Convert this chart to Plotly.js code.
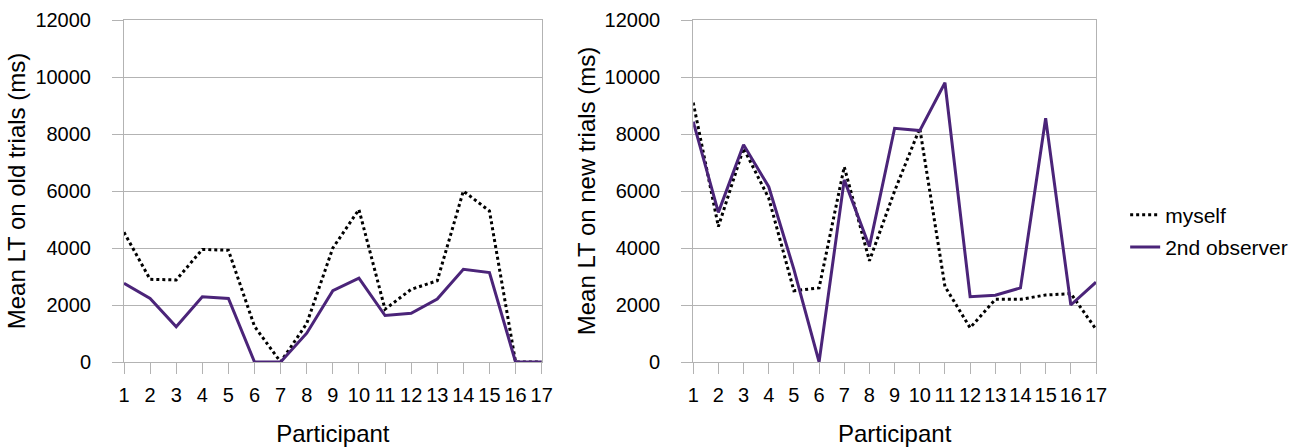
<!DOCTYPE html>
<html>
<head>
<meta charset="utf-8">
<script src="https://cdn.plot.ly/plotly-3.0.1.min.js"></script>
<style>html,body{margin:0;padding:0;background:#fff;}#chart{width:1305px;height:448px;}</style>
</head>
<body>
<div id="chart"></div>
<script>
const participants = [1,2,3,4,5,6,7,8,9,10,11,12,13,14,15,16,17];
const oldMyself   = [4550, 2900, 2880, 3950, 3920, 1250, 0, 1350, 4000, 5350, 1850, 2550, 2850, 6000, 5300, 0, 0];
const oldObserver = [2760, 2230, 1240, 2290, 2230, 0, 0, 1010, 2500, 2940, 1630, 1710, 2210, 3250, 3140, 0, 0];
const newMyself   = [9100, 4750, 7500, 5750, 2500, 2600, 6850, 3550, 6000, 8200, 2650, 1200, 2200, 2200, 2350, 2400, 1150];
const newObserver = [8430, 5250, 7620, 6150, 3250, 0, 6390, 4050, 8200, 8120, 9800, 2290, 2340, 2600, 8550, 2000, 2800];
const yTicks = [0, 2000, 4000, 6000, 8000, 10000, 12000];
const seriesNames = ["myself", "2nd observer"];

const FONT = "Liberation Sans, Arial, sans-serif";
const GRID = "#b3b3b3";
const PURPLE = "#4b2479";

const traces = [
  {x: participants, y: oldMyself, name: seriesNames[0], xaxis: "x", yaxis: "y", mode: "lines",
   line: {color: "#000000", width: 3, dash: "dot"}, showlegend: true, legendgroup: "a"},
  {x: participants, y: oldObserver, name: seriesNames[1], xaxis: "x", yaxis: "y", mode: "lines",
   line: {color: PURPLE, width: 3}, showlegend: true, legendgroup: "b"},
  {x: participants, y: newMyself, name: seriesNames[0], xaxis: "x2", yaxis: "y2", mode: "lines",
   line: {color: "#000000", width: 3, dash: "dot"}, showlegend: false, legendgroup: "a"},
  {x: participants, y: newObserver, name: seriesNames[1], xaxis: "x2", yaxis: "y2", mode: "lines",
   line: {color: PURPLE, width: 3}, showlegend: false, legendgroup: "b"}
];

function xAxis(domain, anchor) {
  return {
    domain: domain, anchor: anchor, range: [1, 17], tickvals: participants, ticktext: participants.map(String),
    tickangle: 0,
    showgrid: false, zeroline: false, showline: true, linecolor: GRID, linewidth: 1, mirror: true,
    ticks: "outside", ticklen: 11, tickcolor: GRID, tickwidth: 1, ticklabelstandoff: 4,
    tickfont: {family: FONT, size: 20, color: "#000"},
    title: {text: "Participant", font: {family: FONT, size: 24, color: "#000"}, standoff: 20}
  };
}
function yAxis(anchor, title) {
  return {
    anchor: anchor, domain: [0, 1], range: [0, 12000], tickvals: yTicks, ticktext: yTicks.map(String),
    showgrid: true, gridcolor: GRID, gridwidth: 1, zeroline: false,
    showline: true, linecolor: GRID, linewidth: 1, mirror: true,
    ticks: "outside", ticklen: 11, tickcolor: GRID, tickwidth: 1, ticklabelstandoff: 17,
    tickfont: {family: FONT, size: 20, color: "#000"},
    title: {text: title, font: {family: FONT, size: 24, color: "#000"}, standoff: 2}
  };
}

const layout = {
  width: 1305, height: 448,
  margin: {l: 124, r: 206, t: 20, b: 86},
  paper_bgcolor: "#fff", plot_bgcolor: "#fff",
  font: {family: FONT, color: "#000"},
  xaxis: xAxis([0, 0.4297], "y"),
  yaxis: yAxis("x", "Mean LT on old trials (ms)"),
  xaxis2: xAxis([0.5856, 1], "y2"),
  yaxis2: yAxis("x2", "Mean LT on new trials (ms)"),
  showlegend: true,
  legend: {x: 1.03, xanchor: "left", y: 0.383, yanchor: "middle", traceorder: "grouped", tracegroupgap: 2,
           font: {family: FONT, size: 21, color: "#000"}, bgcolor: "rgba(0,0,0,0)", borderwidth: 0}
};

Plotly.newPlot("chart", traces, layout, {staticPlot: true, displayModeBar: false});
</script>
</body>
</html>
